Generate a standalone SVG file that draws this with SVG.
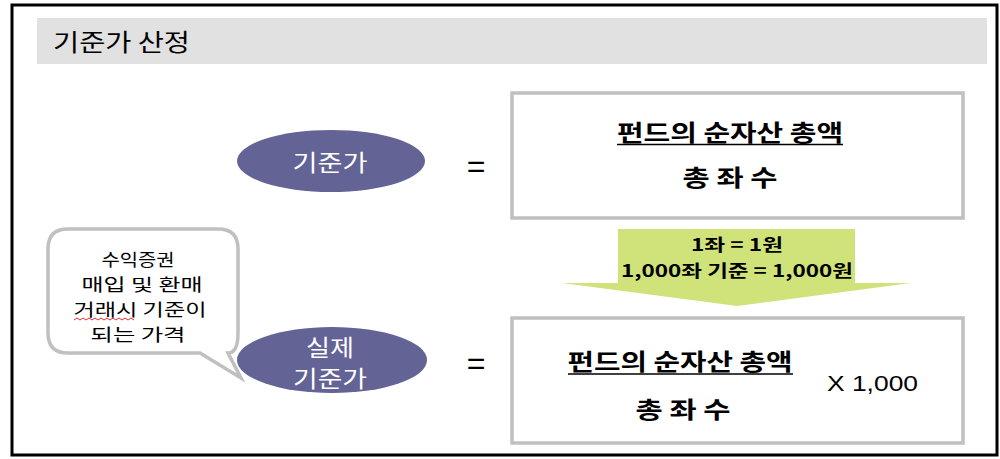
<svg xmlns="http://www.w3.org/2000/svg" width="1000" height="459" viewBox="0 0 1000 459">
<style>
.k{font-family:"Noto Sans CJK KR","Noto Sans",sans-serif;fill:#000}
.w{font-family:"Noto Sans CJK KR","Noto Sans",sans-serif;fill:#fff;font-size:23px;text-anchor:middle}
.box{fill:#fff;stroke:#c0c0c0;stroke-width:3.5}
.ell{fill:#636396}
.eq{font-family:"Liberation Sans",sans-serif;font-size:32px;text-anchor:middle;fill:#000}
.num{font-family:"Liberation Sans",sans-serif;font-size:22px;fill:#000}
</style>
<rect x="12" y="5" width="985" height="450" fill="#fff" stroke="#000" stroke-width="3"/>
<g id="header">
<rect x="37" y="18" width="950" height="46" fill="#e1e1e1"/>
<text class="k" x="53" y="51" font-size="24" textLength="137" lengthAdjust="spacingAndGlyphs" fill="#1a1a1a">기준가 산정</text>
</g>
<g id="connectors">
<path d="M618,229 H855 V283 H911 L737,306 L562,283 H618 Z" fill="#d0e37a"/>
<text class="k" x="737" y="251" font-size="17" font-weight="bold" text-anchor="middle" textLength="92" lengthAdjust="spacingAndGlyphs">1좌 = 1원</text>
<text class="k" x="737" y="277" font-size="17" font-weight="bold" text-anchor="middle" textLength="232" lengthAdjust="spacingAndGlyphs">1,000좌 기준 = 1,000원</text>
</g>
<g id="node-kijunga">
<ellipse class="ell" cx="331" cy="161" rx="94" ry="31"/>
<text class="w" x="330" y="171" textLength="75" lengthAdjust="spacingAndGlyphs">기준가</text>
</g>
<text class="eq" x="476" y="177">=</text>
<g id="node-formula1">
<rect class="box" x="512" y="93" width="451" height="125"/>
<text class="k" x="730" y="141" font-size="23" font-weight="bold" text-anchor="middle" textLength="226" lengthAdjust="spacingAndGlyphs">펀드의 순자산 총액</text>
<line x1="617" y1="144.5" x2="843" y2="144.5" stroke="#000" stroke-width="1.5"/>
<text class="k" x="730" y="186" font-size="23" font-weight="bold" text-anchor="middle" textLength="95" lengthAdjust="spacingAndGlyphs">총 좌 수</text>
</g>
<g id="node-callout">
<path class="box" d="M68,229 H218 Q238,229 238,249 V333 Q238,353 228,353 L241,378 L200,353 H68 Q48,353 48,333 V249 Q48,229 68,229 Z"/>
<g class="k" font-size="17" text-anchor="middle">
<text x="138" y="266" textLength="73" lengthAdjust="spacingAndGlyphs">수익증권</text>
<text x="142" y="291" textLength="121" lengthAdjust="spacingAndGlyphs">매입 및 환매</text>
<text x="140" y="316" textLength="133" lengthAdjust="spacingAndGlyphs">거래시 기준이</text>
<text x="138" y="341" textLength="95" lengthAdjust="spacingAndGlyphs">되는 가격</text>
</g>
<path d="M74,320 l3,-2 l3,2 l3,-2 l3,2 l3,-2 l3,2 l3,-2 l3,2 l3,-2 l3,2 l3,-2 l3,2 l3,-2 l3,2 l3,-2 l3,2 l3,-2 l3,2 l3,-2 l3,2" fill="none" stroke="#e03030" stroke-width="1"/>
</g>
<g id="node-actual">
<ellipse class="ell" cx="332" cy="360" rx="95" ry="33"/>
<text class="w" x="330" y="356" textLength="48" lengthAdjust="spacingAndGlyphs">실제</text>
<text class="w" x="330" y="387" textLength="74" lengthAdjust="spacingAndGlyphs">기준가</text>
</g>
<text class="eq" x="476" y="374">=</text>
<g id="node-formula2">
<rect class="box" x="512" y="318" width="451" height="125"/>
<text class="k" x="680" y="370" font-size="23" font-weight="bold" text-anchor="middle" textLength="225" lengthAdjust="spacingAndGlyphs">펀드의 순자산 총액</text>
<line x1="568" y1="374" x2="793" y2="374" stroke="#000" stroke-width="1.5"/>
<text class="k" x="683" y="418" font-size="23" font-weight="bold" text-anchor="middle" textLength="95" lengthAdjust="spacingAndGlyphs">총 좌 수</text>
<text class="num" x="827" y="391" textLength="91" lengthAdjust="spacingAndGlyphs">X 1,000</text>
</g>
</svg>
